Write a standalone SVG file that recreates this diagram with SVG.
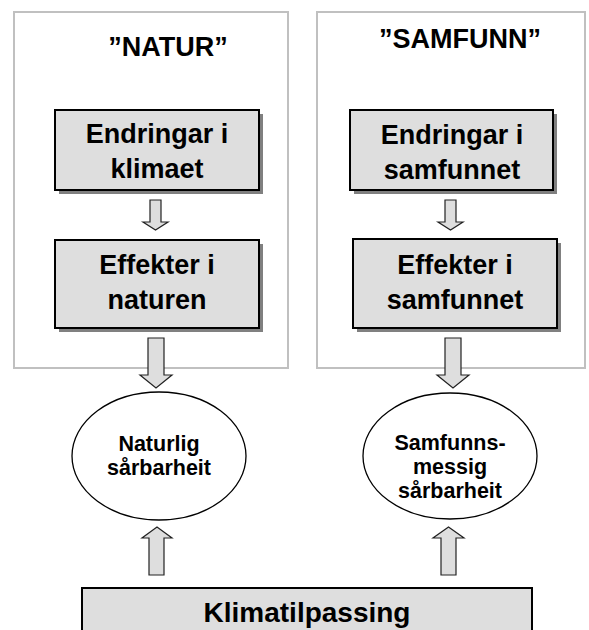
<svg xmlns="http://www.w3.org/2000/svg" width="589" height="630" viewBox="0 0 589 630">
<style>
.panel{fill:#fff;stroke:#c0c0c0;stroke-width:2}
.box{fill:#dedede;stroke:#000;stroke-width:2}
.shadow{fill:#808080}
.ell{fill:#fff;stroke:#000;stroke-width:1.3}
.arr{fill:#dedede;stroke:#222;stroke-width:1.2;stroke-linejoin:miter}
text{font-family:"Liberation Sans",Arial,sans-serif;font-weight:bold;fill:#000;text-anchor:middle}
.t{font-size:27px}
.b{font-size:27px}
.e{font-size:21.5px}
.k{font-size:28px}
</style>
<rect width="589" height="630" fill="#fff"/>
<g id="panel-natur">
<rect class="panel" x="14" y="12" width="274" height="356"/>
<text class="t" x="168" y="56">”NATUR”</text>
</g>
<g id="panel-samfunn">
<rect class="panel" x="317" y="12" width="268" height="356"/>
<text class="t" x="460" y="48">”SAMFUNN”</text>
</g>
<g id="endringar-klimaet">
<rect class="shadow" x="59" y="114" width="204" height="80"/>
<rect class="box" x="55" y="110" width="204" height="80"/>
<text class="b" x="157" y="143">Endringar i</text>
<text class="b" x="157" y="178">klimaet</text>
</g>
<g id="effekter-naturen">
<rect class="shadow" x="59" y="244" width="204" height="88"/>
<rect class="box" x="55" y="240" width="204" height="88"/>
<text class="b" x="157" y="274">Effekter i</text>
<text class="b" x="157" y="309">naturen</text>
</g>
<g id="endringar-samfunnet">
<rect class="shadow" x="354" y="114" width="203" height="80"/>
<rect class="box" x="350" y="110" width="203" height="80"/>
<text class="b" x="452" y="144">Endringar i</text>
<text class="b" x="452" y="179">samfunnet</text>
</g>
<g id="effekter-samfunnet">
<rect class="shadow" x="357" y="243" width="204" height="89"/>
<rect class="box" x="353" y="239" width="204" height="89"/>
<text class="b" x="455" y="274">Effekter i</text>
<text class="b" x="455" y="309">samfunnet</text>
</g>
<g id="naturlig-sarbarheit">
<ellipse class="ell" cx="159" cy="456" rx="87" ry="64"/>
<text class="e" x="159" y="451">Naturlig</text>
<text class="e" x="159" y="475">sårbarheit</text>
</g>
<g id="samfunnsmessig-sarbarheit">
<ellipse class="ell" cx="450" cy="456" rx="87" ry="63"/>
<text class="e" x="450" y="450">Samfunns-</text>
<text class="e" x="450" y="474">messig</text>
<text class="e" x="450" y="498">sårbarheit</text>
</g>
<g id="klimatilpassing">
<rect class="box" x="82" y="588" width="450" height="50"/>
<text class="k" x="307" y="622">Klimatilpassing</text>
</g>
<g id="connectors">
<path class="arr" d="M150,200 H161 V222 H168 L155.5,230 L143,222 H150 Z"/>
<path class="arr" d="M445,200 H456 V222 H463 L450.5,230 L438,222 H445 Z"/>
<path class="arr" d="M148,338 H164 V375 H172 L156,388 L140,375 H148 Z"/>
<path class="arr" d="M445,338 H461 V375 H469 L453,388 L437,375 H445 Z"/>
<path class="arr" d="M149,575 V538 H142 L157,527 L172,538 H164 V575 Z"/>
<path class="arr" d="M441,575 V538 H433 L448.5,527 L464,538 H456 V575 Z"/>
</g>
</svg>
